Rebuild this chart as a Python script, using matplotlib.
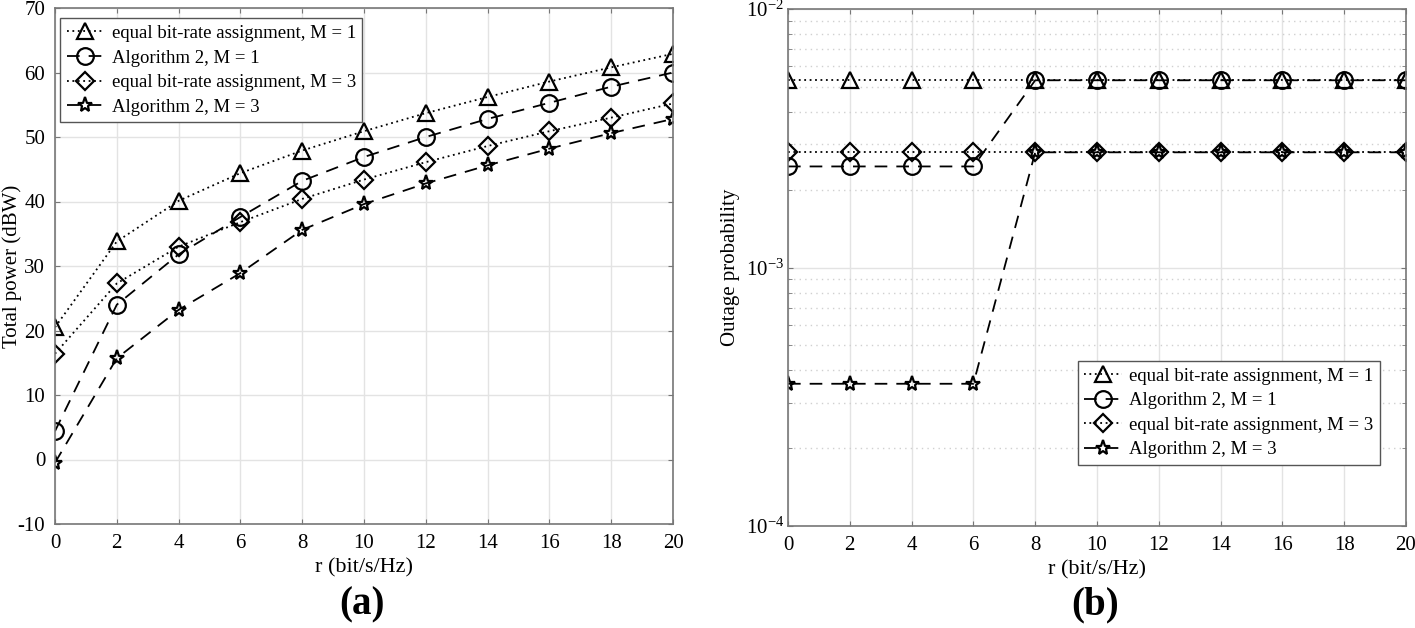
import numpy as np
import matplotlib.pyplot as plt

plt.rcParams['font.family'] = ['Liberation Serif', 'DejaVu Serif']
plt.rcParams['mathtext.fontset'] = 'stix'
plt.rcParams['axes.unicode_minus'] = False

r = [0, 2, 4, 6, 8, 10, 12, 14, 16, 18, 20]

# (a) total power (dBW)
power_equal_m1 = [20.5, 33.8, 40.1, 44.4, 47.9, 50.9, 53.7, 56.2, 58.6, 60.8, 62.9]
power_alg2_m1 = [4.4, 24.0, 31.8, 37.6, 43.2, 46.9, 50.0, 52.8, 55.3, 57.8, 60.0]
power_equal_m3 = [16.4, 27.3, 33.0, 36.8, 40.4, 43.4, 46.1, 48.6, 50.9, 53.0, 55.2]
power_alg2_m3 = [-0.5, 15.7, 23.2, 28.9, 35.6, 39.6, 42.8, 45.6, 48.2, 50.6, 52.8]

# (b) outage probability
out_equal_m1 = [5.3e-3] * 11
out_alg2_m1 = [2.46e-3] * 4 + [5.3e-3] * 7
out_equal_m3 = [2.79e-3] * 11
out_alg2_m3 = [3.55e-4] * 4 + [2.79e-3] * 7

labels = ['equal bit-rate assignment, M = 1', 'Algorithm 2, M = 1',
          'equal bit-rate assignment, M = 3', 'Algorithm 2, M = 3']

fig = plt.figure(figsize=(14.15, 6.28), dpi=100)
W, H = 1415, 628
ax1 = fig.add_axes([55 / W, 1 - 524 / H, (673 - 55) / W, (524 - 8) / H])
ax2 = fig.add_axes([788 / W, 1 - 526 / H, (1406 - 788) / W, (526 - 9) / H])

dotted = (0, (1, 2))
dashed = (0, (7, 5))
ms = 12
styles = [
    dict(linestyle=dotted, marker='^'),
    dict(linestyle=dashed, marker='o'),
    dict(linestyle=dotted, marker='D', markersize=ms - 2.5),
    dict(linestyle=dashed, marker='*', markersize=ms - 1),
]


def draw(ax, series):
    for y, st, lab in zip(series, styles, labels):
        kw = dict(color='black', linewidth=1.3, markersize=ms,
                  markerfacecolor='none', markeredgewidth=1.6)
        kw.update(st)
        ax.plot(r, y, label=lab, **kw)


draw(ax1, [power_equal_m1, power_alg2_m1, power_equal_m3, power_alg2_m3])
draw(ax2, [out_equal_m1, out_alg2_m1, out_equal_m3, out_alg2_m3])

ax1.set_xlim(0, 20)
ax1.set_ylim(-10, 70)
ax1.set_xticks(r)
ax1.set_yticks(np.arange(-10, 71, 10))
ax1.set_xlabel('r (bit/s/Hz)', fontsize=16)
ax1.set_ylabel('Total power (dBW)', fontsize=15)
ax1.yaxis.set_label_coords(-0.054, 0.5)
ax1.grid(True, color='#e3e3e3', linewidth=1)

ax2.set_yscale('log')
ax2.set_xlim(0, 20)
ax2.set_ylim(1e-4, 1e-2)
ax2.set_xticks(r)
ax2.set_xlabel('r (bit/s/Hz)', fontsize=16)
ax2.set_ylabel('Outage probability', fontsize=15)
ax2.yaxis.set_label_coords(-0.077, 0.5)
ax2.grid(True, which='major', color='#e3e3e3', linewidth=1)
ax2.grid(True, which='minor', color='#d0d0d0', linestyle=(0, (1, 3)), linewidth=1)

for ax in (ax1, ax2):
    ax.set_axisbelow(True)
    for sp in ax.spines.values():
        sp.set_color('#777777')
        sp.set_linewidth(1.2)
    ax.tick_params(direction='in', which='both', labelsize=15, color='#777777',
                   top=True, right=True, pad=7)
    ax.tick_params(which='minor', length=3)
ax2.tick_params(axis='y', which='both', pad=3)

leg_kw = dict(fontsize=13.5, handlelength=2.0, handletextpad=0.4, borderpad=0.35,
              labelspacing=0.4, fancybox=False, edgecolor='#555555', framealpha=1)
ax1.legend(loc='upper left', bbox_to_anchor=(0.008, 0.98), borderaxespad=0, **leg_kw)
ax2.legend(loc='lower right', bbox_to_anchor=(0.958, 0.118), borderaxespad=0, **leg_kw)

fig.text(362 / W, 1 - 605 / H, '(a)', fontsize=28, fontweight='bold', ha='center', va='center')
fig.text(1095 / W, 1 - 605 / H, '(b)', fontsize=28, fontweight='bold', ha='center', va='center')

fig.savefig('out.png', dpi=100)
